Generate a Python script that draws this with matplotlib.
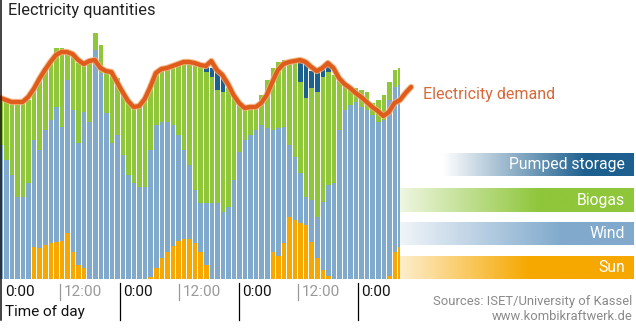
import numpy as np
import matplotlib
matplotlib.use("Agg")
import matplotlib.pyplot as plt
from matplotlib.colors import to_rgb
from matplotlib.lines import Line2D
import matplotlib.patheffects as pe

plt.rcParams['font.family'] = ['Roboto', 'DejaVu Sans']

# ---------------- data (arbitrary units, one bar per time step) ----------------
sun = [0, 0, 0, 0, 0, 0, 32, 31, 34, 36, 37, 38, 46, 27, 14, 11, 0, 0, 0, 0,
       0, 0, 0, 0, 0, 0, 0, 2, 11, 21, 27, 33, 38, 40, 40, 36, 27, 14, 0, 0,
       0, 0, 0, 0, 0, 0, 0, 0, 0, 27, 23, 36, 62, 59, 56, 54, 37, 21, 9, 3,
       0, 0, 0, 0, 0, 0, 0, 0, 0, 0, 3, 27, 32]
wind = [134, 119, 104, 82, 82, 96, 107, 98, 115, 123, 135, 114, 153, 142, 122, 156, 157, 229, 206, 166,
        136, 144, 124, 104, 96, 92, 92, 127, 143, 136, 130, 121, 106, 89, 74, 53, 49, 62, 76, 76,
        67, 72, 99, 127, 139, 144, 149, 154, 151, 122, 128, 116, 72, 63, 50, 28, 42, 41, 68, 91,
        96, 149, 169, 174, 177, 172, 169, 164, 157, 159, 176, 165, 162]
biogas = [45, 58, 72, 93, 93, 83, 50, 72, 62, 60, 59, 79, 28, 55, 80, 49, 62, 17, 28, 43,
          71, 57, 65, 75, 76, 81, 87, 66, 53, 53, 54, 59, 71, 88, 103, 127, 138, 131, 126, 113,
          120, 119, 83, 47, 32, 28, 23, 30, 48, 62, 66, 67, 85, 97, 91, 99, 112, 125, 125, 113,
          108, 50, 25, 18, 14, 17, 18, 12, 22, 25, 18, 17, 17]
storage = [0, 0, 0, 0, 0, 0, 0, 0, 0, 0, 0, 0, 0, 0, 0, 0, 0, 0, 0, 0,
           0, 0, 0, 0, 0, 0, 0, 0, 0, 0, 0, 0, 0, 0, 0, 0, 0, 5, 9, 20,
           15, 0, 0, 0, 0, 0, 0, 0, 0, 0, 0, 0, 0, 0, 20, 35, 17, 21, 8, 6,
           0, 0, 0, 0, 0, 0, 0, 0, 0, 0, 0, 0, 0]
demand = [181, 179, 177, 177, 177, 182, 190, 200, 209, 217, 224, 227, 227, 225, 219, 215, 218, 219, 211, 208,
          207, 197, 187, 178, 172, 173, 180, 192, 206, 210, 211, 213, 215, 217, 217, 216, 214, 213, 218, 209,
          204, 195, 184, 176, 171, 172, 172, 176, 184, 197, 209, 215, 217, 218, 219, 217, 212, 208, 211, 216,
          211, 201, 195, 191, 186, 182, 177, 172, 168, 163, 167, 176, 179, 186, 192]

tick_hours = [0, 12, 24, 36, 48, 60, 72]
tick_labels = ["0:00", "12:00", "0:00", "12:00", "0:00", "12:00", "0:00"]
hours_per_bar = 1.12
first_bar_hour = -0.12

legend_items = ["Pumped storage", "Biogas", "Wind", "Sun"]

# ---------------- styling ----------------
C_SUN = '#f6a800'
C_WIND = '#80a9cc'
C_BIO = '#8fc63a'
C_STOR = '#1d5f8e'
C_DEM = '#df5c1c'

W, H = 636, 330
fig = plt.figure(figsize=(W / 100, H / 100), dpi=100)
ax = fig.add_axes([0, 51 / H, 400 / W, 279 / H])

n = len(sun)
x = np.arange(n)
sun_a = np.array(sun, float)
wind_a = np.array(wind, float)
bio_a = np.array(biogas, float)
stor_a = np.array(storage, float)

ax.bar(x, sun_a, width=1.0, color=C_SUN, linewidth=0)
ax.bar(x, wind_a, width=1.0, bottom=sun_a, color=C_WIND, linewidth=0)
ax.bar(x, bio_a, width=1.0, bottom=sun_a + wind_a, color=C_BIO, linewidth=0)
ax.bar(x, stor_a, width=1.0, bottom=sun_a + wind_a + bio_a, color=C_STOR, linewidth=0)

# white separators between bars
for b in np.arange(n) + 0.5:
    ax.axvline(b, color='white', lw=0.7, zorder=3)

xd = np.arange(len(demand))
ax.plot(xd, demand, color=C_DEM, lw=3.1, solid_capstyle='round', solid_joinstyle='round',
        clip_on=False, zorder=5,
        path_effects=[pe.Stroke(linewidth=4.6, foreground='#f3b07a', alpha=0.8), pe.Normal()])

ax.set_xlim(-0.077, 72.0)
ax.set_ylim(0, 279)
ax.axis('off')

# x positions of the hour ticks (in bar units)
tick_x = [(h - first_bar_hour) / hours_per_bar for h in tick_hours]
tr = ax.get_xaxis_transform()
for tx, lab in zip(tick_x, tick_labels):
    if lab == "0:00":
        if tx > 1:
            ax.add_line(Line2D([tx, tx], [-4 / 279, -41 / 279], transform=tr, color='black',
                               lw=0.9, clip_on=False))
        col = '#111111'
    else:
        ax.add_line(Line2D([tx, tx], [-5 / 279, -21 / 279], transform=tr, color='#999999',
                           lw=0.9, clip_on=False))
        col = '#9a9a9a'
    ax.annotate(lab, xy=(tx, -12.5 / 279), xycoords=tr, xytext=(2.6, 0),
                textcoords='offset points', ha='left', va='center', fontsize=11, color=col)

# left axis line (full height)
fig.add_artist(Line2D([1.2 / W, 1.2 / W], [10 / H, 1.0], color='#111111', lw=1.1))

fig.text(8 / W, 1 - 10 / H, "Electricity quantities", fontsize=11.8, color='#222222',
         ha='left', va='center')
fig.text(5 / W, 1 - 312 / H, "Time of day", fontsize=11, color='#111111', ha='left', va='center')
fig.text(632 / W, 1 - 302 / H, "Sources: ISET/University of Kassel", fontsize=9.4, color='#8a8a8a',
         ha='right', va='center')
fig.text(632 / W, 1 - 317 / H, "www.kombikraftwerk.de", fontsize=9.4, color='#8a8a8a',
         ha='right', va='center')
fig.text(423 / W, 1 - 95 / H, "Electricity demand", fontsize=11.5, color='#d8693a',
         ha='left', va='center')


def grad_bar(x0, y0, x1, y1, color, a0, ramp, label):
    gax = fig.add_axes([x0 / W, 1 - y1 / H, (x1 - x0) / W, (y1 - y0) / H])
    gax.axis('off')
    t = np.linspace(0, 1, 300)
    a = np.clip(a0 + (1 - a0) * t / ramp, 0, 1)
    rgb = np.array(to_rgb(color))
    img = (1 - a)[:, None] * np.ones(3) + a[:, None] * rgb
    gax.imshow(img[None, :, :], aspect='auto', extent=[0, 1, 0, 1], interpolation='bilinear')
    gax.set_xlim(0, 1)
    gax.set_ylim(0, 1)
    gax.text(1 - 9 / (x1 - x0), 0.48, label, color='white', ha='right', va='center',
             fontsize=11.3, transform=gax.transAxes)


grad_bar(443, 153, 634, 176, C_STOR, 0.0, 0.75, legend_items[0])
grad_bar(400, 188, 634, 212, C_BIO, 0.15, 0.6, legend_items[1])
grad_bar(400, 222, 634, 245, C_WIND, 0.12, 0.7, legend_items[2])
grad_bar(400, 256, 634, 279, C_SUN, 0.2, 0.55, legend_items[3])

fig.savefig("out.png", dpi=100)
